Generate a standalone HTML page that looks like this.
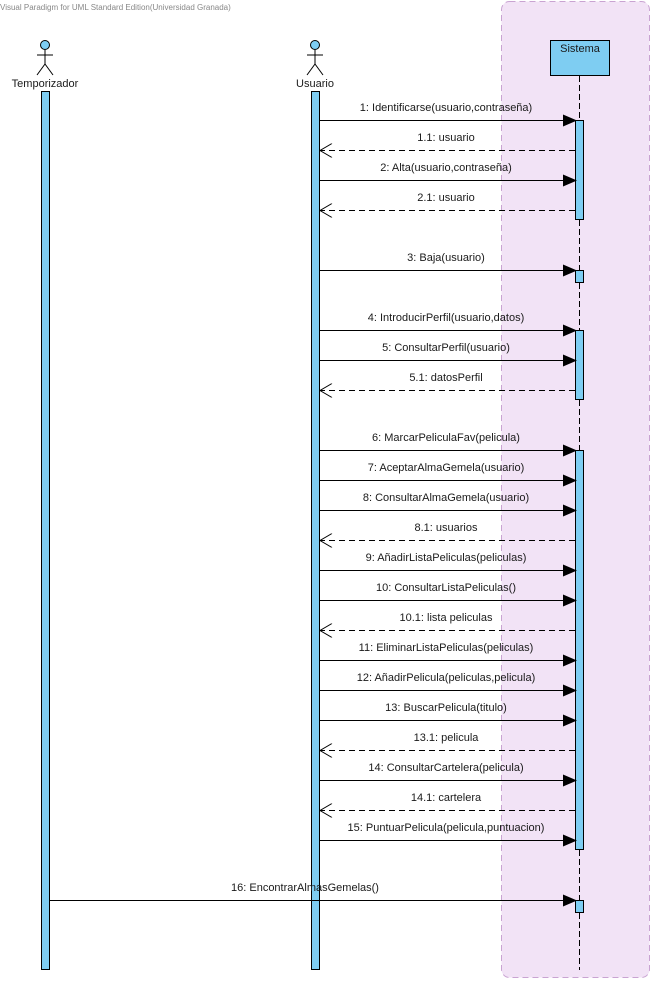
<!DOCTYPE html>
<html><head><meta charset="utf-8"><style>
html,body{margin:0;padding:0;background:#fff;}
svg{display:block;}
text{font-family:"Liberation Sans",sans-serif;font-size:11px;fill:#1a1a1a;}
</style></head><body>
<svg width="654" height="984" viewBox="0 0 654 984" xmlns="http://www.w3.org/2000/svg">
<defs>
<marker id="f" markerWidth="14" markerHeight="12" refX="13" refY="6" orient="auto" markerUnits="userSpaceOnUse"><path d="M0,0 L14,6 L0,12 Z" fill="#000"/></marker>
<marker id="o" markerWidth="14" markerHeight="14" refX="13" refY="7" orient="auto" markerUnits="userSpaceOnUse"><path d="M1,0 L13,7 L1,14" fill="none" stroke="#000" stroke-width="1"/></marker>
</defs>
<text x="0" y="10" style="font-size:8px;fill:#888">Visual Paradigm for UML Standard Edition(Universidad Granada)</text>
<rect x="501.5" y="1.5" width="148" height="976" rx="8" fill="#f2e3f6" stroke="#c9a3d2" stroke-dasharray="6,4"/>
<g stroke="#000" stroke-width="1" fill="none">
<circle cx="45" cy="45" r="4.5" fill="#7ecdf2"/>
<line x1="45" y1="50" x2="45" y2="64"/><line x1="37" y1="55" x2="53" y2="55"/>
<line x1="45" y1="64" x2="37" y2="75"/><line x1="45" y1="64" x2="53" y2="75"/>
<circle cx="315" cy="45" r="4.5" fill="#7ecdf2"/>
<line x1="315" y1="50" x2="315" y2="64"/><line x1="307" y1="55" x2="323" y2="55"/>
<line x1="315" y1="64" x2="307" y2="75"/><line x1="315" y1="64" x2="323" y2="75"/>
</g>
<text x="45" y="87" text-anchor="middle">Temporizador</text>
<text x="315" y="87" text-anchor="middle">Usuario</text>
<rect x="41.5" y="91.5" width="8" height="878" fill="#7ecdf2" stroke="#000"/>
<rect x="311.5" y="91.5" width="8" height="878" fill="#7ecdf2" stroke="#000"/>
<rect x="550.5" y="40.5" width="59" height="35" fill="#7ecdf2" stroke="#000"/>
<text x="580" y="52" text-anchor="middle">Sistema</text>
<line x1="579.5" y1="76" x2="579.5" y2="970" stroke="#000" stroke-dasharray="6,3"/>
<g fill="#7ecdf2" stroke="#000">
<rect x="575.5" y="120.5" width="8" height="99"/>
<rect x="575.5" y="270.5" width="8" height="12"/>
<rect x="575.5" y="330.5" width="8" height="69"/>
<rect x="575.5" y="450.5" width="8" height="399"/>
<rect x="575.5" y="900.5" width="8" height="12"/>
</g>
<g stroke="#000" stroke-width="1">
<line x1="320" y1="120.5" x2="576" y2="120.5" marker-end="url(#f)"/>
<line x1="575" y1="150.5" x2="320" y2="150.5" stroke-dasharray="6,4" marker-end="url(#o)"/>
<line x1="320" y1="180.5" x2="576" y2="180.5" marker-end="url(#f)"/>
<line x1="575" y1="210.5" x2="320" y2="210.5" stroke-dasharray="6,4" marker-end="url(#o)"/>
<line x1="320" y1="270.5" x2="576" y2="270.5" marker-end="url(#f)"/>
<line x1="320" y1="330.5" x2="576" y2="330.5" marker-end="url(#f)"/>
<line x1="320" y1="360.5" x2="576" y2="360.5" marker-end="url(#f)"/>
<line x1="575" y1="390.5" x2="320" y2="390.5" stroke-dasharray="6,4" marker-end="url(#o)"/>
<line x1="320" y1="450.5" x2="576" y2="450.5" marker-end="url(#f)"/>
<line x1="320" y1="480.5" x2="576" y2="480.5" marker-end="url(#f)"/>
<line x1="320" y1="510.5" x2="576" y2="510.5" marker-end="url(#f)"/>
<line x1="575" y1="540.5" x2="320" y2="540.5" stroke-dasharray="6,4" marker-end="url(#o)"/>
<line x1="320" y1="570.5" x2="576" y2="570.5" marker-end="url(#f)"/>
<line x1="320" y1="600.5" x2="576" y2="600.5" marker-end="url(#f)"/>
<line x1="575" y1="630.5" x2="320" y2="630.5" stroke-dasharray="6,4" marker-end="url(#o)"/>
<line x1="320" y1="660.5" x2="576" y2="660.5" marker-end="url(#f)"/>
<line x1="320" y1="690.5" x2="576" y2="690.5" marker-end="url(#f)"/>
<line x1="320" y1="720.5" x2="576" y2="720.5" marker-end="url(#f)"/>
<line x1="575" y1="750.5" x2="320" y2="750.5" stroke-dasharray="6,4" marker-end="url(#o)"/>
<line x1="320" y1="780.5" x2="576" y2="780.5" marker-end="url(#f)"/>
<line x1="575" y1="810.5" x2="320" y2="810.5" stroke-dasharray="6,4" marker-end="url(#o)"/>
<line x1="320" y1="840.5" x2="576" y2="840.5" marker-end="url(#f)"/>
<line x1="50" y1="900.5" x2="576" y2="900.5" marker-end="url(#f)"/>
</g>
<g text-anchor="middle">
<text x="446" y="111">1: Identificarse(usuario,contraseña)</text>
<text x="446" y="141">1.1: usuario</text>
<text x="446" y="171">2: Alta(usuario,contraseña)</text>
<text x="446" y="201">2.1: usuario</text>
<text x="446" y="261">3: Baja(usuario)</text>
<text x="446" y="321">4: IntroducirPerfil(usuario,datos)</text>
<text x="446" y="351">5: ConsultarPerfil(usuario)</text>
<text x="446" y="381">5.1: datosPerfil</text>
<text x="446" y="441">6: MarcarPeliculaFav(pelicula)</text>
<text x="446" y="471">7: AceptarAlmaGemela(usuario)</text>
<text x="446" y="501">8: ConsultarAlmaGemela(usuario)</text>
<text x="446" y="531">8.1: usuarios</text>
<text x="446" y="561">9: AñadirListaPeliculas(peliculas)</text>
<text x="446" y="591">10: ConsultarListaPeliculas()</text>
<text x="446" y="621">10.1: lista peliculas</text>
<text x="446" y="651">11: EliminarListaPeliculas(peliculas)</text>
<text x="446" y="681">12: AñadirPelicula(peliculas,pelicula)</text>
<text x="446" y="711">13: BuscarPelicula(titulo)</text>
<text x="446" y="741">13.1: pelicula</text>
<text x="446" y="771">14: ConsultarCartelera(pelicula)</text>
<text x="446" y="801">14.1: cartelera</text>
<text x="446" y="831">15: PuntuarPelicula(pelicula,puntuacion)</text>
<text x="305" y="891">16: EncontrarAlmasGemelas()</text>
</g>
</svg>
</body></html>
